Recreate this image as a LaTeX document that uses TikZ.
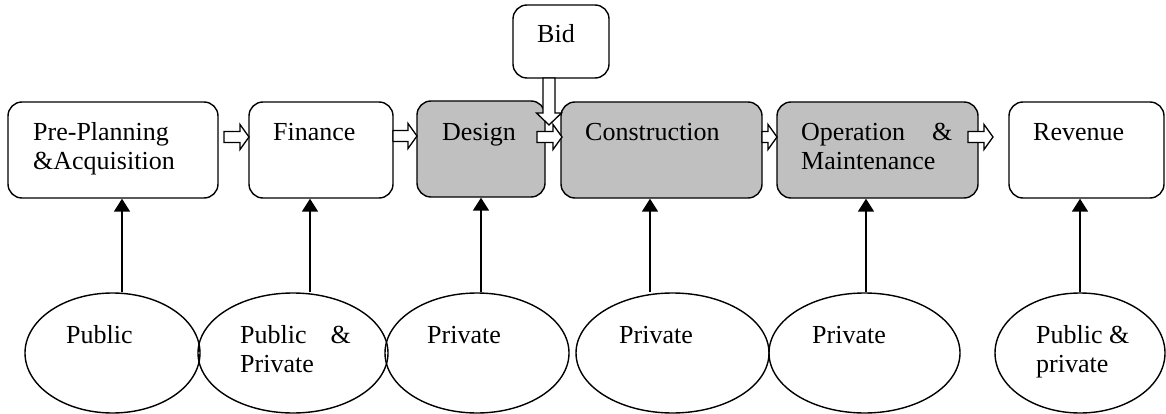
\documentclass[tikz,border=0pt]{standalone}
\usepackage{fontspec}
\setmainfont{Liberation Serif}
\usetikzlibrary{shapes.geometric,arrows.meta,calc}
\definecolor{boxgray}{RGB}{192,192,192}
\tikzset{
 box/.style={draw, line width=1.4pt, rounded corners=14pt, rectangle, inner sep=0pt, minimum height=96pt},
 gbox/.style={box, fill=boxgray},
 oval/.style={draw, ellipse, line width=1.4pt, inner sep=0pt, minimum height=120pt},
 txt/.style={anchor=base west, inner sep=0pt, font=\fontsize{26}{29}\selectfont},
 up/.style={line width=1.8pt, -{Triangle[width=16pt,length=13pt]}},
 hollow/.style={draw, fill=white, line width=1.3pt, line join=miter},
}
\newcommand\harr[2]{\draw[hollow] ($(#1)+(0,-5.5)$) -- ($(#2)+(-9,-5.5)$) -- ($(#2)+(-9,-12.5)$) -- (#2) -- ($(#2)+(-9,12.5)$) -- ($(#2)+(-9,5.5)$) -- ($(#1)+(0,5.5)$) -- cycle;}
\begin{document}
\begin{tikzpicture}[x=1pt,y=-1pt]
\useasboundingbox (0,0) rectangle (1166,414);
% boxes
\node[box, minimum width=210pt] (b1) at (113,150) {};
\node[box, minimum width=144pt] (b2) at (321,150) {};
\node[gbox, minimum width=128pt] (b3) at (481,149) {};
\node[gbox, minimum width=201pt] (b4) at (661.5,150) {};
\node[gbox, minimum width=201pt] (b5) at (877.5,150) {};
\node[box, minimum width=155pt] (b6) at (1086.5,150) {};
\node[box, minimum width=96pt, minimum height=73pt] (bid) at (561,41.5) {};
% box texts
\node[txt] (t1a) at (33,141) {Pre-Planning};
\node[txt] (t1b) at (33,170) {\&Acquisition};
\node[txt] (t2) at (273,141) {Finance};
\node[txt] (t3) at (442,141) {Design};
\node[txt] (t4) at (585,141) {Construction};
\node[txt] (t5a) at (801,141) {Operation\hspace{27pt}\&};
\node[txt] (t5b) at (801,170) {Maintenance};
\node[txt] (t6) at (1033,141) {Revenue};
\node[txt] (tbid) at (537,43) {Bid};
% ellipses
\node[oval, minimum width=175pt] (e1) at (112.5,353) {};
\node[oval, minimum width=190pt] (e2) at (293,353) {};
\node[oval, minimum width=184pt] (e3) at (477,353) {};
\node[oval, minimum width=193pt] (e4) at (672.5,353) {};
\node[oval, minimum width=191pt] (e5) at (864.5,353) {};
\node[oval, minimum width=170pt] (e6) at (1080,353) {};
% ellipse texts
\node[txt] (s1) at (66,343) {Public};
\node[txt] (s2a) at (240,343) {Public\hspace{24pt}\&};
\node[txt] (s2b) at (240,372) {Private};
\node[txt] (s3) at (427,343) {Private};
\node[txt] (s4) at (619,343) {Private};
\node[txt] (s5) at (812,343) {Private};
\node[txt] (s6a) at (1036,343) {Public \&};
\node[txt] (s6b) at (1036,372) {private};
% vertical arrows
\coordinate (a1) at (122,0);
\coordinate (a2) at (310,0);
\coordinate (a3) at (481,0);
\coordinate (a4) at (650,0);
\coordinate (a5) at (866,0);
\coordinate (a6) at (1080,0);
\draw[up] (e1.north -| a1) -- (b1.south -| a1);
\draw[up] (e2.north -| a2) -- (b2.south -| a2);
\draw[up] (e3.north -| a3) -- (b3.south -| a3);
\draw[up] (e4.north -| a4) -- (b4.south -| a4);
\draw[up] (e5.north -| a5) -- (b5.south -| a5);
\draw[up] (e6.north -| a6) -- (b6.south -| a6);
% hollow horizontal arrows
\coordinate (h1s) at (224,137); \coordinate (h1e) at (249,137);
\coordinate (h2s) at (393,136); \coordinate (h2e) at (417,136);
\coordinate (h3s) at (537,137); \coordinate (h3e) at (562,137);
\coordinate (h4s) at (762,137); \coordinate (h4e) at (777,137);
\coordinate (h5s) at (968,137); \coordinate (h5e) at (993,137);
\harr{h1s}{h1e}
\harr{h2s}{h2e}
\harr{h3s}{h3e}
\harr{h4s}{h4e}
\harr{h5s}{h5e}
% bid arrow
\coordinate (vs) at (549,78);
\coordinate (ve) at (549,125);
\draw[hollow] ($(vs)+(-6,0)$) -- ($(ve)+(-6,-12)$) -- ($(ve)+(-12.5,-12)$) -- (ve) -- ($(ve)+(12.5,-12)$) -- ($(ve)+(6,-12)$) -- ($(vs)+(6,0)$) -- cycle;
\end{tikzpicture}
\end{document}
